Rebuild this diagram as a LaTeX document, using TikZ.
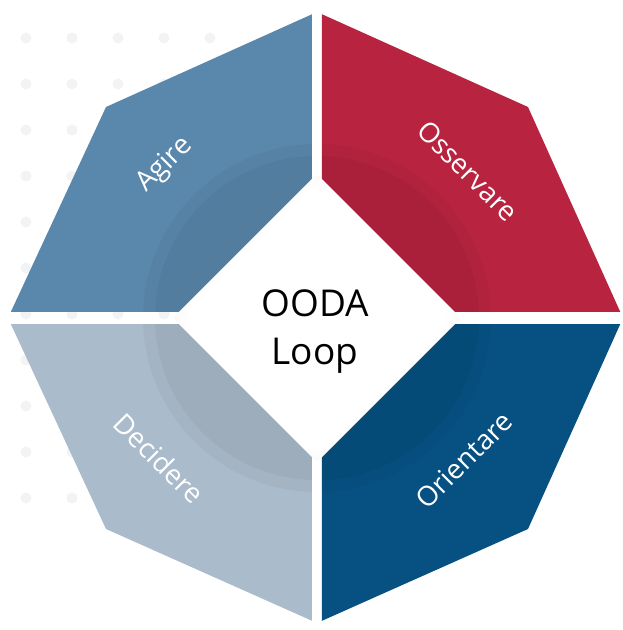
\documentclass[tikz,border=0pt]{standalone}
\usepackage{fontspec}
\setmainfont{Open Sans}
\usetikzlibrary{positioning}

\definecolor{agirecol}{HTML}{5A87AC}
\definecolor{osservarecol}{HTML}{B82440}
\definecolor{orientarecol}{HTML}{065182}
\definecolor{deciderecol}{HTML}{AABBCB}
\definecolor{dotcol}{HTML}{F3F3F3}

\pgfdeclareradialshading{coreglow}{\pgfpoint{0bp}{0bp}}{color(0bp)=(white); color(22bp)=(white); color(36bp)=(black!10); color(50bp)=(black!24)}

\tikzset{
  phase/.style={text=white, font=\fontsize{27.5}{32}\selectfont, inner sep=0pt},
  title/.style={text=black, font=\fontsize{37}{48}\selectfont, align=center, inner sep=0pt},
  ring/.style={fill=black, opacity=.035},
}

\def\octagon{(0,306) -- (-211,211) -- (-309,0) -- (-211,-211) -- (0,-305) -- (211,-211) -- (306,0) -- (211,211) -- cycle}

\begin{document}
\begin{tikzpicture}[x=1pt,y=1pt]
  \useasboundingbox[fill=white] (-317,-312) rectangle (305,318);

  % faint dots in the background
  \foreach \i in {0,...,4}
    \foreach \j in {0,...,10}
      \fill[dotcol] (-291+46*\i,280-46*\j) circle (5.5);

  % the four quadrants
  \begin{scope}
    \clip (-400,6.5) rectangle (-5,400);
    \fill[agirecol] \octagon;
    \fill[ring] (0,0) circle (174);
    \fill[ring] (0,0) circle (162);
  \end{scope}
  \begin{scope}
    \clip (5,6.5) rectangle (400,400);
    \fill[osservarecol] \octagon;
    \fill[ring] (0,0) circle (174);
    \fill[ring] (0,0) circle (162);
  \end{scope}
  \begin{scope}
    \clip (5,-6.5) rectangle (400,-400);
    \fill[orientarecol] \octagon;
    \fill[ring] (0,0) circle (174);
    \fill[ring] (0,0) circle (162);
  \end{scope}
  \begin{scope}
    \clip (-400,-6.5) rectangle (-5,-400);
    \fill[deciderecol] \octagon;
    \fill[ring] (0,0) circle (174);
    \fill[ring] (0,0) circle (162);
  \end{scope}

  % centre
  \shade[shading=coreglow, rounded corners=3pt] (0,144) -- (-144,0) -- (0,-144) -- (144,0) -- cycle;
  \node[title] (ooda) at (-2,-14) {OODA\\Loop};

  \node[phase, rotate=45]  (agire)     at (-152,153)  {Agire};
  \node[phase, rotate=-45] (osservare) at (151,147)   {Osservare};
  \node[phase, rotate=45]  (orientare) at (147,-142)  {Orientare};
  \node[phase, rotate=-45] (decidere)  at (-158,-140) {Decidere};
\end{tikzpicture}
\end{document}
